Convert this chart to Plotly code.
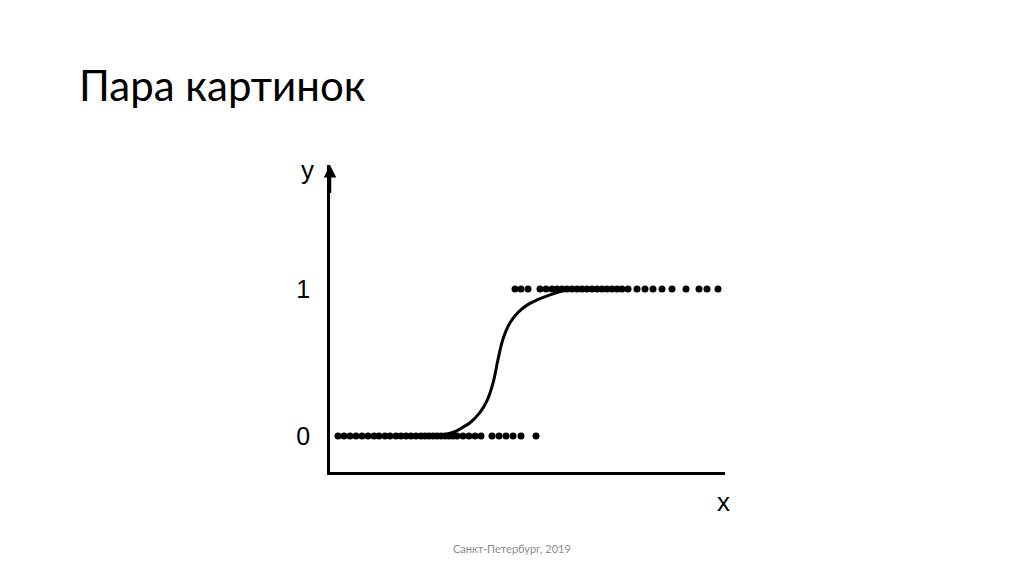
import plotly.graph_objects as go

# Data (x in arbitrary units along the horizontal axis, 0..395)
bottom_x = [8, 14, 20, 26, 32, 38, 44, 49, 55, 60, 66, 71, 76, 81, 86, 91, 95, 99, 103, 107,
            111, 115, 119, 123, 127, 133, 139, 145, 151, 162, 169, 176, 183, 191, 206]
bottom_y = [0] * len(bottom_x)
top_x = [185, 191, 198, 210, 216, 222, 227, 232, 237, 242, 247, 252, 257, 262, 267, 272, 277,
         282, 287, 292, 298, 307, 315, 323, 332, 342, 356, 369, 377, 388]
top_y = [1] * len(top_x)
curve_x = [100, 115, 125, 133, 140, 150, 157, 163, 168, 173, 180, 188, 197, 207, 220, 232, 245, 255]
curve_y = [0.0, 0.01, 0.03, 0.06, 0.09, 0.16, 0.24, 0.36, 0.52, 0.66, 0.77, 0.84, 0.89, 0.925,
           0.96, 0.985, 1.0, 1.0]
y_ticks = [0, 1]
y_ticktext = ["0", "1"]
title_text = "Пара картинок"
footer_text = "Санкт-Петербург, 2019"

Y_MIN, Y_MAX = -0.245, 1.843
W, H = 1024, 574
ML, MR, MT, MB = 330, 299, 165, 102
PW, PH = W - ML - MR, H - MT - MB


def px(xp):
    return (xp - ML) / PW


def py(yp):
    return (H - MB - yp) / PH


fig = go.Figure()
fig.add_trace(go.Scatter(x=curve_x, y=curve_y, mode="lines",
                         line=dict(color="black", width=3, shape="spline", smoothing=1.0),
                         hoverinfo="skip"))
fig.add_trace(go.Scatter(x=bottom_x, y=bottom_y, mode="markers",
                         marker=dict(color="black", size=7)))
fig.add_trace(go.Scatter(x=top_x, y=top_y, mode="markers",
                         marker=dict(color="black", size=7)))

lbl_font = dict(family="Liberation Sans, Arial", size=26, color="black")

fig.update_layout(
    width=W, height=H,
    margin=dict(l=ML, r=MR, t=MT, b=MB, autoexpand=False),
    paper_bgcolor="white", plot_bgcolor="white",
    showlegend=False,
    xaxis=dict(range=[0, 395], showgrid=False, zeroline=False, showticklabels=False,
               showline=True, linecolor="black", linewidth=2.5, ticks="", automargin=False),
    yaxis=dict(range=[Y_MIN, Y_MAX], showgrid=False, zeroline=False,
               tickvals=y_ticks, ticktext=y_ticktext, ticks="",
               ticklabelstandoff=12, automargin=False,
               tickfont=dict(family="Liberation Sans, Arial", size=25, color="black"),
               showline=True, linecolor="black", linewidth=2.5),
    annotations=[
        dict(x=0, y=Y_MAX, xref="x", yref="y", ax=0, ay=Y_MAX - 0.2, axref="x", ayref="y",
             text="", showarrow=True, arrowhead=2, arrowsize=1, arrowwidth=2.5,
             arrowcolor="black"),
        dict(x=px(307), y=py(170), xref="paper", yref="paper", text="y", showarrow=False,
             xanchor="center", yanchor="middle", font=lbl_font),
        dict(x=px(723), y=py(502), xref="paper", yref="paper", text="x", showarrow=False,
             xanchor="center", yanchor="middle", font=lbl_font),
        dict(x=px(77), y=py(85), xref="paper", yref="paper", text=title_text, showarrow=False,
             xanchor="left", yanchor="middle",
             font=dict(family="Lato", size=42, color="#000000")),
        dict(x=px(512), y=py(548), xref="paper", yref="paper", text=footer_text, showarrow=False,
             xanchor="center", yanchor="middle",
             font=dict(family="Lato", size=11, color="#8c8c8c")),
    ],
)

fig.write_html("out.html", config={"displayModeBar": False},
               post_script="document.body.style.margin='0';")
